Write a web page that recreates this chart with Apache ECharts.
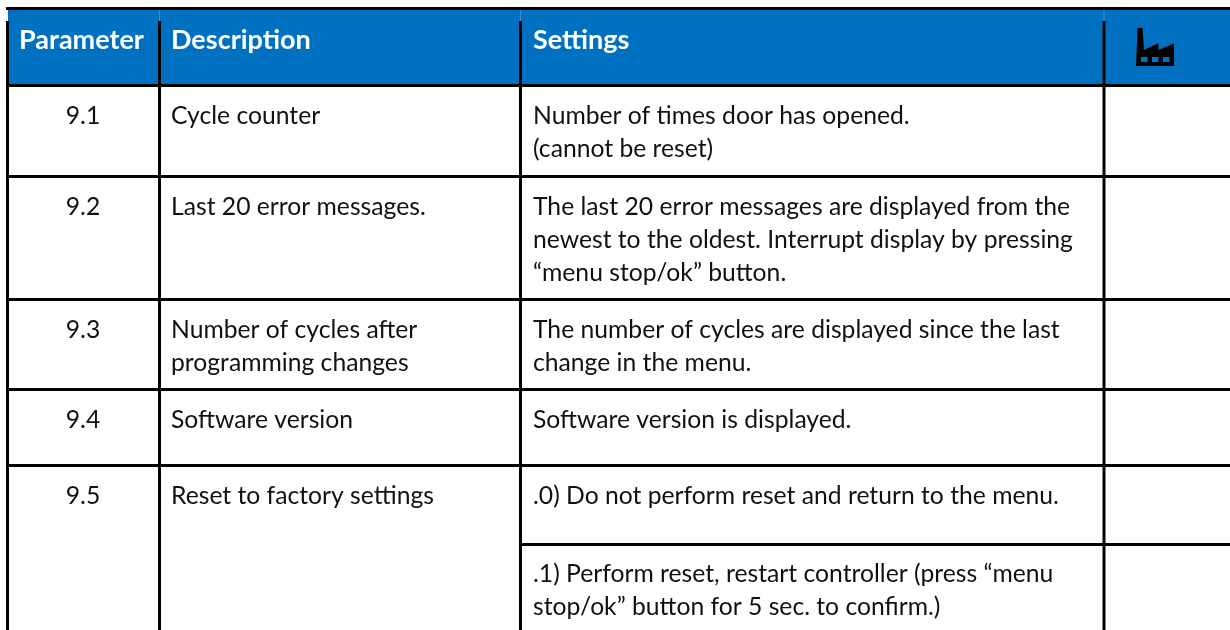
<!DOCTYPE html>
<html>
<head>
<meta charset="utf-8">
<style>html,body{margin:0;padding:0;background:#fff}#main{width:1230px;height:630px}</style>
<script src="https://cdn.jsdelivr.net/npm/echarts@6/dist/echarts.min.js"></script>
</head>
<body>
<div id="main"></div>
<script>
var headers = ['Parameter', 'Description', 'Settings'];
var parameters = ['9.1', '9.2', '9.3', '9.4', '9.5', ''];
var descriptions = [
    ['Cycle counter'],
    ['Last 20 error messages.'],
    ['Number of cycles after', 'programming changes'],
    ['Software version'],
    ['Reset to factory settings'],
    []
];
var settings = [
    ['Number of times door has opened.', '(cannot be reset)'],
    ['The last 20 error messages are displayed from the', 'newest to the oldest. Interrupt display by pressing', '“menu stop/ok” button.'],
    ['The number of cycles are displayed since the last', 'change in the menu.'],
    ['Software version is displayed.'],
    ['.0) Do not perform reset and return to the menu.'],
    ['.1) Perform reset, restart controller (press “menu', 'stop/ok” button for 5 sec. to confirm.)']
];

// layout, in picture pixels
var colLines = [7.5, 159.5, 520.5, 1104];
var rowLines = [85.5, 176.5, 299.5, 389.5, 465.5, 544.5];
var baselines = [124, 215, 338, 428, 504, 582];
var lineGap = 33;
var textFont = 'Lato';
var fontSize = 24.7;
var headSize = 27;

function textEl(api, str, x, base, opt) {
    opt = opt || {};
    var size = opt.size || fontSize;
    var p = api.coord([x, base - 0.33 * size]);
    return {
        type: 'text',
        x: p[0], y: p[1],
        style: {
            text: str,
            x: 0, y: 0,
            fill: opt.color || '#111',
            font: (opt.bold ? 'bold ' : '') + size + 'px ' + textFont,
            textAlign: opt.align || 'left',
            verticalAlign: 'middle'
        }
    };
}

function rect(api, x0, y0, x1, y1, color) {
    var a = api.coord([x0, y0]), b = api.coord([x1, y1]);
    return {type: 'rect', shape: {x: a[0], y: a[1], width: b[0] - a[0], height: b[1] - a[1]}, style: {fill: color}};
}

function poly(api, pts, color) {
    return {type: 'polygon', shape: {points: pts.map(function (q) { return api.coord(q); })}, style: {fill: color}};
}

function drawTable(params, api) {
    var kids = [];
    // header band
    kids.push(rect(api, 8, 10, 1230, 85, '#0070c0'));
    // rules
    kids.push(rect(api, 6, 7, 1230, 10, '#000'));
    kids.push(rect(api, 6, 21, 9, 630, '#000'));
    for (var c = 1; c < colLines.length; c++) {
        kids.push(rect(api, colLines[c] - 1.5, 21, colLines[c] + 1.5, 630, '#000'));
        kids.push(rect(api, colLines[c] - 0.5, 10, colLines[c] + 0.5, 21, '#3a8fd0'));
    }
    rowLines.forEach(function (y, i) {
        var from = i === rowLines.length - 1 ? colLines[2] : 6;
        kids.push(rect(api, from, y - 1.5, 1230, y + 1.5, '#000'));
    });
    // header text
    kids.push(textEl(api, headers[0], 19, 49, {bold: true, color: '#fff', size: headSize}));
    kids.push(textEl(api, headers[1], 171, 49, {bold: true, color: '#fff', size: headSize}));
    kids.push(textEl(api, headers[2], 533, 49, {bold: true, color: '#fff', size: headSize}));
    // factory icon
    kids.push(poly(api, [[1136, 66], [1137.5, 28], [1142.5, 28], [1144, 50], [1158.5, 43], [1158.5, 50], [1174, 43.5], [1174, 66]], '#000'));
    [1141, 1152, 1163].forEach(function (x) {
        kids.push(rect(api, x, 57, x + 6.5, 62, '#0070c0'));
    });
    // body text
    parameters.forEach(function (p, i) {
        kids.push(textEl(api, p, 83, baselines[i], {align: 'center'}));
        descriptions[i].forEach(function (s, j) {
            kids.push(textEl(api, s, 171, baselines[i] + j * lineGap));
        });
        settings[i].forEach(function (s, j) {
            kids.push(textEl(api, s, 533, baselines[i] + j * lineGap));
        });
    });
    return {type: 'group', children: kids};
}

var chart = echarts.init(document.getElementById('main'), null, {renderer: 'canvas'});
chart.setOption({
    animation: false,
    backgroundColor: '#fff',
    grid: {left: 0, right: 0, top: 0, bottom: 0},
    xAxis: {type: 'value', min: 0, max: 1230, show: false},
    yAxis: {type: 'value', min: 0, max: 630, inverse: true, show: false},
    series: [{
        type: 'custom',
        silent: true,
        clip: false,
        renderItem: drawTable,
        data: [[0, 0]]
    }]
});
</script>
</body>
</html>
